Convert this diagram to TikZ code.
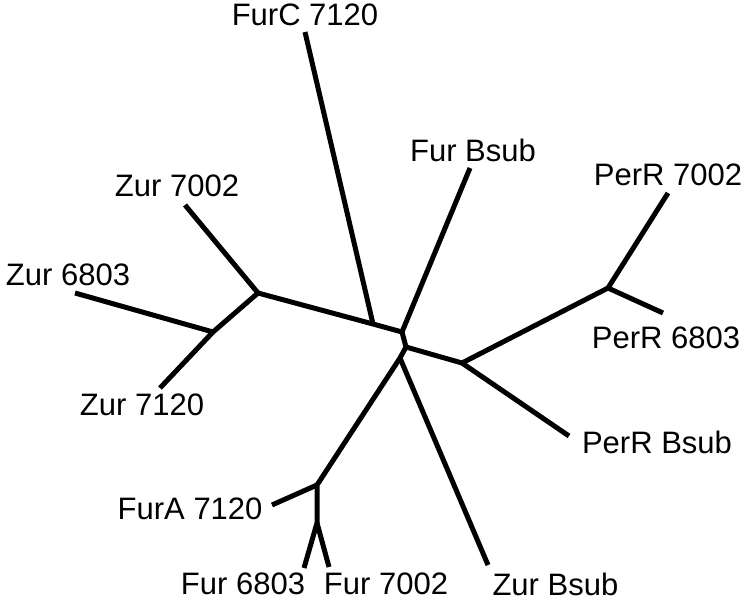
\documentclass[tikz,border=0pt]{standalone}
\usepackage{fontspec}
\setmainfont{Liberation Sans}
\begin{document}
\begin{tikzpicture}[x=1pt,y=-1pt,line width=5pt,
  leaf/.style={font=\fontsize{31}{37}\selectfont,inner sep=0pt}]
\useasboundingbox (0,0) rectangle (750,602);
% inner joints
\coordinate (jz1) at (258,293);
\coordinate (jz2) at (213,332);
\coordinate (ja) at (373,324);
\coordinate (jb) at (402,332);
\coordinate (jc) at (406,347);
\coordinate (jd) at (400,358);
\coordinate (je) at (462,363);
\coordinate (jf) at (608,288);
\coordinate (jg) at (317,485);
\coordinate (jh) at (317,523);
% tips
\coordinate (tfc) at (305,32);
\coordinate (tfb) at (470,168);
\coordinate (tz7002) at (185,205);
\coordinate (tz6803) at (75,293);
\coordinate (tz7120) at (160,388);
\coordinate (tp7002) at (668,193);
\coordinate (tp6803) at (663,313);
\coordinate (tpb) at (569,436);
\coordinate (tfa) at (272,505);
\coordinate (tf6803) at (304,568);
\coordinate (tf7002) at (329,567);
\coordinate (tzb) at (488,565);
% labels
\node[leaf] (furc) at (305,15){FurC 7120};
\node[leaf] (furb) at (473,150){Fur Bsub};
\node[leaf] (zur7002) at (177,186){Zur 7002};
\node[leaf] (zur6803) at (68,275){Zur 6803};
\node[leaf] (zur7120) at (142,405){Zur 7120};
\node[leaf] (perr7002) at (668,175){PerR 7002};
\node[leaf] (perr6803) at (666,338){PerR 6803};
\node[leaf] (perrb) at (657,442){PerR Bsub};
\node[leaf,anchor=east] (fura) at (265,509){FurA 7120};
\node[leaf] (fur6803) at (243,584){Fur 6803};
\node[leaf] (fur7002) at (386,584){Fur 7002};
\node[leaf,anchor=west] (zurb) at (490,584){Zur Bsub};
% branches
\draw (tz7120) -- (jz2) -- (jz1) -- (tz7002);
\draw (tz6803) -- (jz2);
\draw (jz1) -- (ja) -- (jb) -- (jc) -- (jd) -- (jg) -- (jh) -- (tf6803);
\draw (jh) -- (tf7002);
\draw (jg) -- (tfa);
\draw (ja) -- (tfc);
\draw (jb) -- (tfb);
\draw (jc) -- (je) -- (jf) -- (tp7002);
\draw (jf) -- (tp6803);
\draw (je) -- (tpb);
\draw (jd) -- (tzb);
\end{tikzpicture}
\end{document}
